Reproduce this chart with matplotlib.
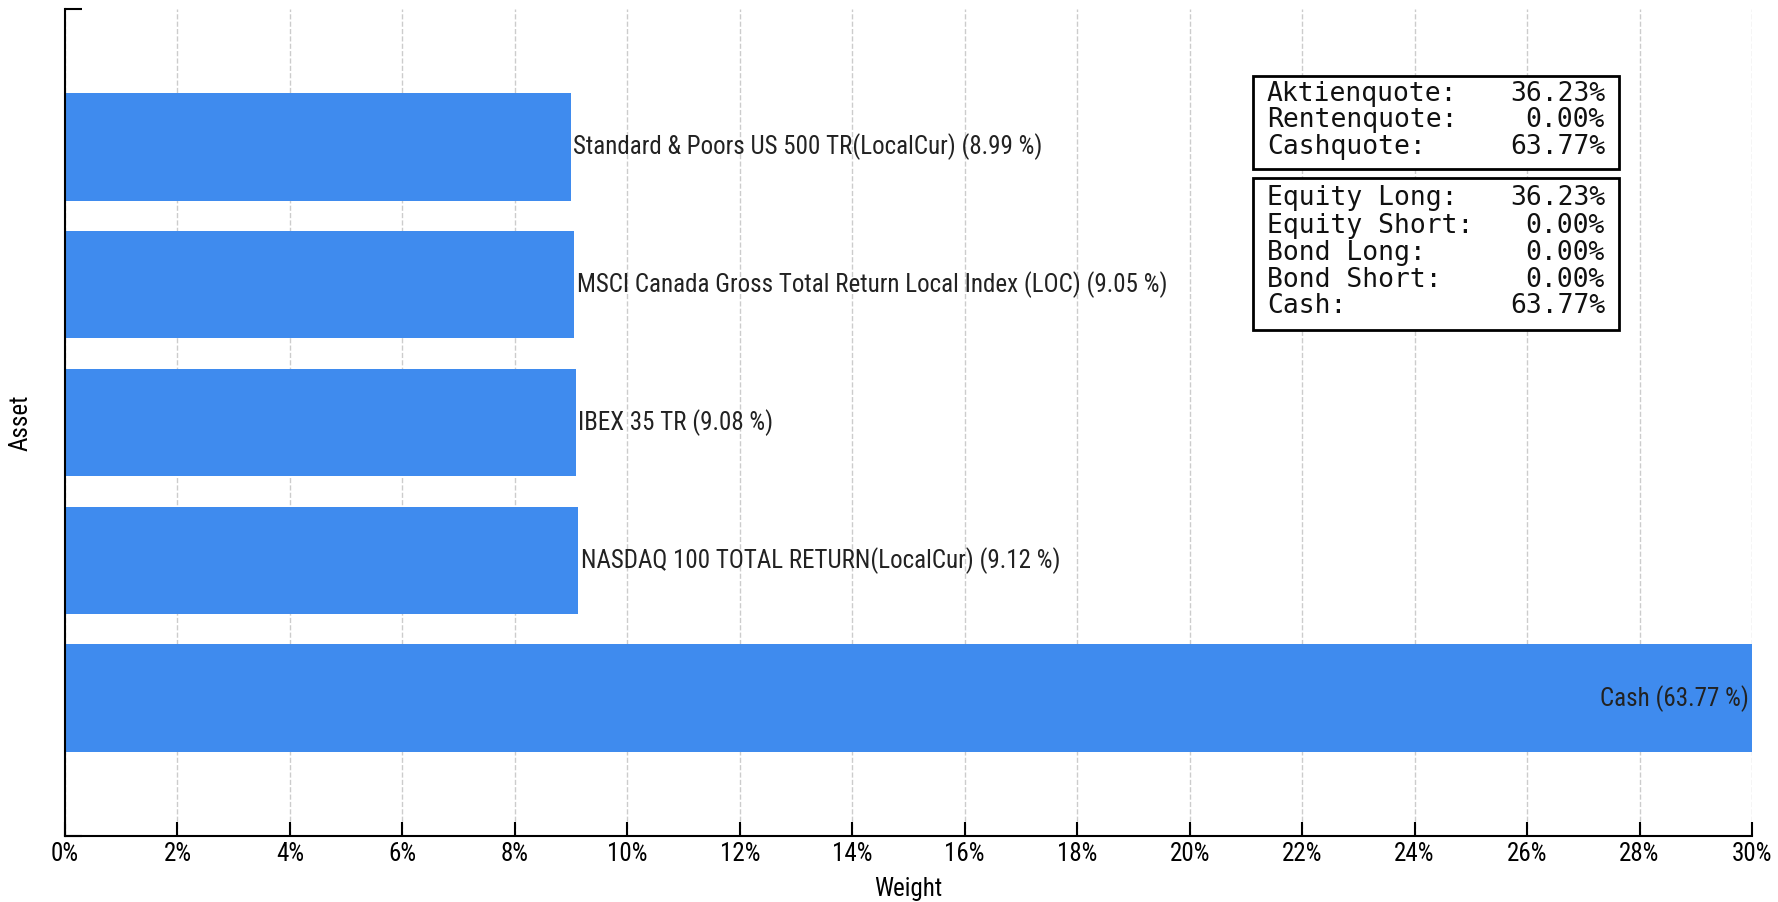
import matplotlib
matplotlib.use("Agg")
import matplotlib.pyplot as plt
from matplotlib.patches import Rectangle
from matplotlib.ticker import FuncFormatter
from matplotlib import font_manager

# Asset weights in percent (bottom to top)
assets = ["Cash", "NASDAQ 100 TOTAL RETURN(LocalCur)", "IBEX 35 TR",
          "MSCI Canada Gross Total Return Local Index (LOC)",
          "Standard & Poors US 500 TR(LocalCur)"]
weights = [63.77, 9.12, 9.08, 9.05, 8.99]

box1_labels = ["Aktienquote:", "Rentenquote:", "Cashquote:"]
box1_values = ["36.23%", "0.00%", "63.77%"]
box2_labels = ["Equity Long:", "Equity Short:", "Bond Long:", "Bond Short:", "Cash:"]
box2_values = ["36.23%", "0.00%", "0.00%", "0.00%", "63.77%"]

installed = {f.name for f in font_manager.fontManager.ttflist}
narrow = [f for f in ["Liberation Sans Narrow", "Roboto Condensed", "DejaVu Sans Condensed"]
          if f in installed] + ["DejaVu Sans"]
nsize = 18 if narrow[0] != "DejaVu Sans" else 14.5
mono = ["DejaVu Sans Mono"]
bar_color = "#3F8BEE"
xmax = 30

fig = plt.figure(figsize=(17.78, 9.02), dpi=100)
W, H = 1778, 902
ax = fig.add_axes([65 / W, 1 - 836 / H, (1752 - 65) / W, (836 - 9) / H])

y = list(range(len(assets)))
ax.barh(y, weights, height=0.78, color=bar_color, zorder=2)

for yi, name, w in zip(y, assets, weights):
    label = f"{name} ({w:.2f} %)"
    if w > xmax:
        ax.text(xmax - 0.05, yi, label, ha="right", va="center", fontsize=nsize,
                family=narrow, stretch="condensed", color="#222222", zorder=3)
    else:
        ax.text(w + 0.05, yi, label, ha="left", va="center", fontsize=nsize,
                family=narrow, stretch="condensed", color="#222222", zorder=3)

ax.set_xlim(0, xmax)
ax.set_ylim(-1, 5)
ax.set_xticks(range(0, xmax + 1, 2))
ax.xaxis.set_major_formatter(FuncFormatter(lambda v, p: f"{v:.0f}%"))
ax.set_yticks(range(-1, 6))
ax.set_yticklabels([])
for lab in ax.get_xticklabels():
    lab.set_family(narrow)
    lab.set_stretch("condensed")
    lab.set_fontsize(nsize)
ax.tick_params(axis="x", direction="in", length=10, width=1.5, pad=4)
ax.tick_params(axis="y", direction="in", length=12, width=1.5)
ax.grid(axis="x", linestyle="--", color="#cccccc", linewidth=1, zorder=0)
ax.spines["top"].set_visible(False)
ax.spines["right"].set_visible(False)
ax.spines["left"].set_linewidth(1.5)
ax.spines["bottom"].set_linewidth(1.5)
ax.set_xlabel("Weight", fontsize=nsize, family=narrow, stretch="condensed", labelpad=8)
ax.set_ylabel("Asset", fontsize=nsize, family=narrow, stretch="condensed", labelpad=20)


def info_box(top, bottom, labels, values, line_ys):
    x0, x1 = 1253, 1619
    fig.patches.append(Rectangle((x0 / W, 1 - bottom / H), (x1 - x0) / W, (bottom - top) / H,
                                 transform=fig.transFigure, facecolor="white",
                                 edgecolor="black", linewidth=2, zorder=5))
    for lab, val, ly in zip(labels, values, line_ys):
        fig.text(1267 / W, 1 - ly / H, lab, ha="left", va="center", fontsize=19,
                 family=mono, color="#111111", zorder=6)
        fig.text(1605 / W, 1 - ly / H, val, ha="right", va="center", fontsize=19,
                 family=mono, color="#111111", zorder=6)


info_box(76, 169, box1_labels, box1_values, [94, 120, 147])
info_box(178, 330, box2_labels, box2_values, [198, 226, 253, 280, 306])

fig.savefig("out.png", dpi=100)
